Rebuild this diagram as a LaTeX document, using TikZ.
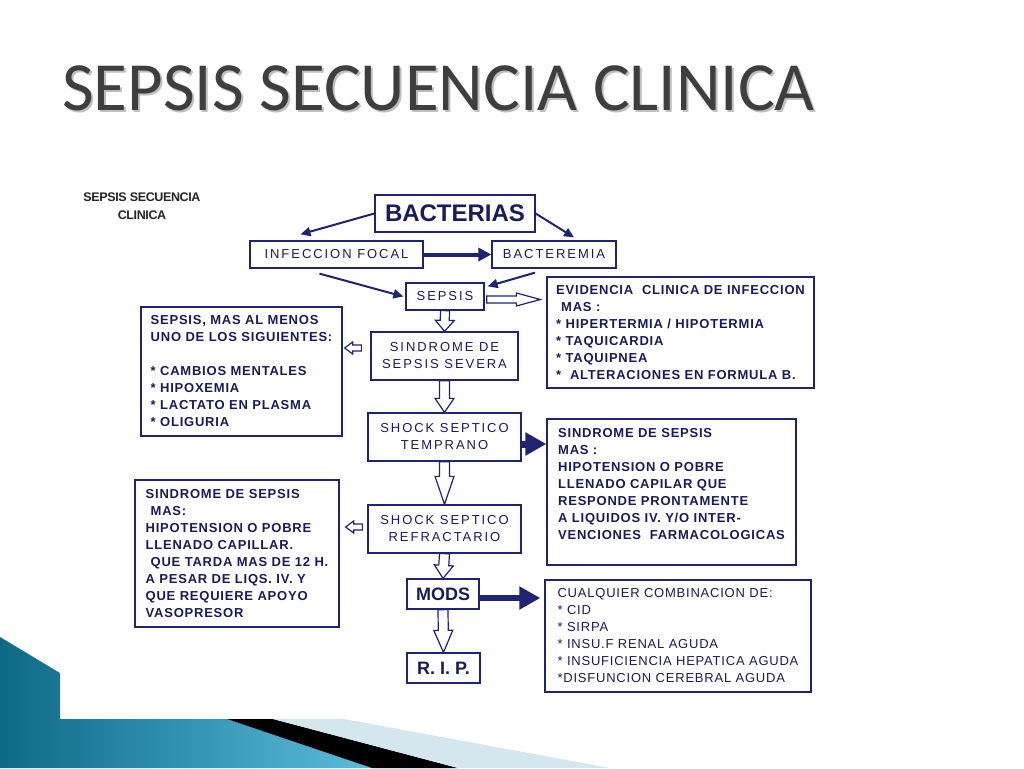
\documentclass[tikz,border=0pt]{standalone}
\usepackage{fontspec}
\setmainfont{Liberation Sans}
\newfontfamily\titlefont{Carlito}
\newfontfamily\spreadfont[LetterSpace=15]{Liberation Sans}
\newfontfamily\notefont[LetterSpace=6]{Liberation Sans}
\newfontfamily\tightfont[LetterSpace=-3]{Liberation Sans}
\usetikzlibrary{arrows.meta, calc}

\definecolor{navy}{HTML}{1F2370}
\definecolor{ink}{HTML}{1A1C58}
\definecolor{tealdark}{HTML}{0C6A86}
\definecolor{teallight}{HTML}{5CBCDD}
\definecolor{paleblue}{HTML}{D4E7EE}
\definecolor{titlegray}{HTML}{3E3E3E}

\tikzset{
  flowbox/.style={draw=navy, line width=1.3pt, text=ink, inner sep=0pt, align=center,
    font=\spreadfont\fontsize{13}{17}\selectfont},
  bigbox/.style={flowbox, font=\bfseries\fontsize{24}{28}\selectfont},
  endbox/.style={flowbox, font=\bfseries\fontsize{18}{22}\selectfont},
  notebox/.style={draw=navy, line width=1.3pt, text=ink, inner sep=0pt, align=left,
    font=\notefont\bfseries\fontsize{13}{17}\selectfont},
  pointer/.style={navy, line width=2pt, -{Triangle[length=10pt,width=9pt]}},
  boldpointer/.style={navy, line width=4pt, -{Triangle[length=13pt,width=13pt]}},
  heavypointer/.style={navy, line width=7pt, -{Triangle[length=21pt,width=22pt]}},
  hollow/.style={draw=navy, fill=white, line width=1.2pt, line join=miter}
}

% from, to, shaft half width, head half width, head length
\newcommand{\hollowarrow}[5]{%
  \coordinate (ha) at (#1);
  \coordinate (hb) at (#2);
  \coordinate (hh) at ($(hb)!#5!(ha)$);
  \draw[hollow] ($(ha)!#3!90:(hb)$) -- ($(hh)!#3!90:(hb)$) -- ($(hh)!#4!90:(hb)$)
    -- (hb) -- ($(hh)!#4!-90:(hb)$) -- ($(hh)!#3!-90:(hb)$) -- ($(ha)!#3!-90:(hb)$) -- cycle;
}

\begin{document}
\begin{tikzpicture}[x=1pt, y=-1pt]
  \useasboundingbox (0,0) rectangle (1024,768);
  \fill[white] (0,0) rectangle (1024,768);

  % slide footer
  \shade[left color=tealdark, right color=teallight]
    (0,637) -- (60,673) -- (60,719) -- (227,719) -- (372,768) -- (0,768) -- cycle;
  \fill[black] (227,719) -- (273,719) -- (458,768) -- (372,768) -- cycle;
  \fill[paleblue] (273,719) -- (344,719) -- (610,768) -- (458,768) -- cycle;

  \begin{scope}[font=\titlefont\fontsize{69}{69}\selectfont, inner sep=0pt, anchor=base west]
    \node[text=black!25] (titleshadow) at (64,112) {SEPSIS SECUENCIA CLINICA};
    \node[text=titlegray] (title) at (62,110) {SEPSIS SECUENCIA CLINICA};
  \end{scope}

  \node[align=center, inner sep=0pt, text=black!85,
    font=\tightfont\bfseries\fontsize{12.5}{18}\selectfont] (caption) at (142,206)
    {SEPSIS SECUENCIA\\CLINICA};

  \node[bigbox, minimum width=160pt, minimum height=37pt] (bacterias) at (455,213.5) {BACTERIAS};
  \node[flowbox, minimum width=173pt, minimum height=27pt] (infeccion) at (336.5,254.5) {INFECCION FOCAL};
  \node[flowbox, minimum width=124pt, minimum height=27pt] (bacteremia) at (554,254.5) {BACTEREMIA};
  \node[flowbox, minimum width=78pt, minimum height=27pt] (sepsis) at (445,296.5) {SEPSIS};
  \node[flowbox, minimum width=147pt, minimum height=48pt] (severa) at (444.5,356) {SINDROME DE\\SEPSIS SEVERA};
  \node[flowbox, minimum width=153pt, minimum height=48pt] (temprano) at (444.5,437) {SHOCK SEPTICO\\TEMPRANO};
  \node[flowbox, minimum width=153pt, minimum height=48pt] (refractario) at (444.5,529) {SHOCK SEPTICO\\REFRACTARIO};
  \node[endbox, minimum width=72pt, minimum height=30pt] (mods) at (443,594) {MODS};
  \node[endbox, minimum width=73pt, minimum height=30pt] (rip) at (443.5,668) {R. I. P.};

  \node[notebox, minimum width=267pt, minimum height=111pt] (evidencia) at (680.5,332.5)
    {EVIDENCIA\ \ CLINICA DE INFECCION\\\hspace*{5pt}MAS :\\* HIPERTERMIA / HIPOTERMIA\\
     * TAQUICARDIA\\* TAQUIPNEA\\*\ \ ALTERACIONES EN FORMULA B.};
  \node[notebox, minimum width=201pt, minimum height=129pt] (criterios) at (241.5,371.5)
    {SEPSIS, MAS AL MENOS\\UNO DE LOS SIGUIENTES:\\[17pt]* CAMBIOS MENTALES\\
     * HIPOXEMIA\\* LACTATO EN PLASMA\\* OLIGURIA};
  \node[notebox, minimum width=249pt, minimum height=146pt] (hipotension) at (671.5,492)
    {SINDROME DE SEPSIS\\MAS :\\HIPOTENSION O POBRE\\LLENADO CAPILAR QUE\\
     RESPONDE PRONTAMENTE\\A LIQUIDOS IV. Y/O INTER-\\VENCIONES\ \ FARMACOLOGICAS\\ \mbox{}};
  \node[notebox, minimum width=204pt, minimum height=147pt] (tardia) at (237,553.5)
    {SINDROME DE SEPSIS\\\hspace*{5pt}MAS:\\HIPOTENSION O POBRE\\LLENADO CAPILLAR.\\
     \hspace*{5pt}QUE TARDA MAS DE 12 H.\\A PESAR DE LIQS. IV. Y\\QUE REQUIERE APOYO\\VASOPRESOR};
  \node[notebox, font=\notefont\fontsize{13}{17}\selectfont, minimum width=266pt, minimum height=112pt]
    (combinacion) at (678,636)
    {CUALQUIER COMBINACION DE:\\* CID\\* SIRPA\\* INSU.F RENAL AGUDA\\
     * INSUFICIENCIA HEPATICA AGUDA\\*DISFUNCION CEREBRAL AGUDA};

  \draw[pointer] (bacterias.west) -- ([xshift=-36pt,yshift=6pt]infeccion.north);
  \draw[pointer] (bacterias.east) -- ([xshift=20pt,yshift=3pt]bacteremia.north);
  \draw[pointer] ([xshift=-17pt,yshift=-5pt]infeccion.south) -- ([xshift=-2pt]sepsis.west);
  \draw[pointer] ([xshift=-19pt,yshift=-4pt]bacteremia.south) -- ([xshift=3pt,yshift=-4pt]sepsis.north east);
  \draw[boldpointer] (infeccion.east) -- (bacteremia.west);

  \coordinate (tempranoout) at ([yshift=-7pt]temprano.east);
  \coordinate (modsout) at ([yshift=-4pt]mods.east);
  \draw[heavypointer] (tempranoout) -- (tempranoout -| hipotension.west);
  \draw[heavypointer, line width=6pt] (modsout) -- ($(modsout -| combinacion.west)+(-4,0)$);

  \coordinate (sepsisout) at ([xshift=2pt,yshift=-3pt]sepsis.east);
  \hollowarrow{sepsisout}{$(sepsisout -| evidencia.west)+(-6,0)$}{3.5pt}{6.5pt}{24pt}
  \coordinate (severaout) at ([xshift=-9pt,yshift=8pt]severa.west);
  \hollowarrow{severaout}{$(severaout -| criterios.east)+(2,0)$}{3pt}{6pt}{8pt}
  \coordinate (refractarioout) at ([xshift=-5pt,yshift=2pt]refractario.west);
  \hollowarrow{refractarioout}{$(refractarioout -| tardia.east)+(6,0)$}{3pt}{6pt}{8pt}

  \hollowarrow{sepsis.south}{severa.north}{4.5pt}{9.5pt}{11pt}
  \hollowarrow{severa.south}{temprano.north}{5pt}{9.5pt}{14pt}
  \hollowarrow{temprano.south}{refractario.north}{5pt}{9.5pt}{28pt}
  \hollowarrow{refractario.south}{mods.north}{5pt}{9.5pt}{13pt}
  \hollowarrow{mods.south}{rip.north}{5pt}{9.5pt}{22pt}
\end{tikzpicture}
\end{document}
